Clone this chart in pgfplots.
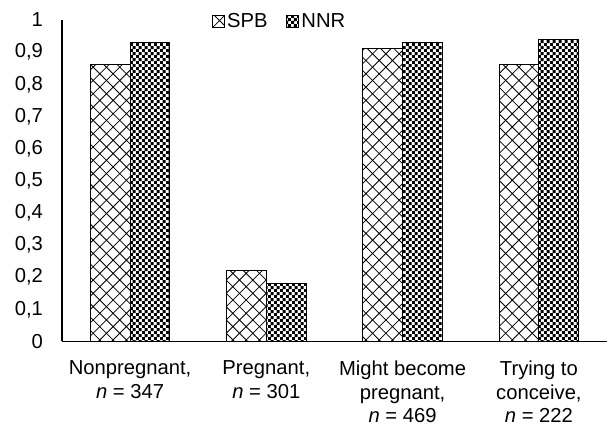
\documentclass[border=0pt]{standalone}
\usepackage{fontspec}
\setmainfont{Liberation Sans}
\usepackage{pgfplots}
\pgfplotsset{compat=1.18}
\usetikzlibrary{patterns}
\pgfdeclarepatternformonly{bigcross}{\pgfqpoint{-1pt}{-1pt}}{\pgfqpoint{10.87pt}{10.87pt}}{\pgfqpoint{9.87pt}{9.87pt}}{%
  \pgfsetlinewidth{0.6pt}%
  \pgfpathmoveto{\pgfqpoint{0pt}{0pt}}\pgfpathlineto{\pgfqpoint{9.92pt}{9.92pt}}%
  \pgfpathmoveto{\pgfqpoint{0pt}{9.87pt}}\pgfpathlineto{\pgfqpoint{9.92pt}{-0.05pt}}%
  \pgfusepath{stroke}}
\pgfdeclarepatternformonly{checks}{\pgfqpoint{0pt}{0pt}}{\pgfqpoint{4.6pt}{4.6pt}}{\pgfqpoint{4.6pt}{4.6pt}}{%
  \pgfpathrectangle{\pgfqpoint{0pt}{0pt}}{\pgfqpoint{2.5pt}{2.5pt}}%
  \pgfpathrectangle{\pgfqpoint{2.3pt}{2.3pt}}{\pgfqpoint{2.5pt}{2.5pt}}%
  \pgfusepath{fill}}
\begin{document}
\fontsize{15}{17.4}\selectfont
\begin{tikzpicture}
\begin{axis}[
  scale only axis,
  width=404.4pt, height=238.5pt,
  ybar=0pt, bar width=29.6pt,
  xmin=-0.5, xmax=3.5,
  ymin=0, ymax=1,
  ytick={0,0.1,...,1},
  xtick=data,
  xticklabels={{Nonpregnant,\\\textit{n} = 347},{Pregnant,\\\textit{n} = 301},{Might become\\pregnant,\\\textit{n} = 469},{Trying to\\conceive,\\\textit{n} = 222}},
  xticklabel style={align=center, inner sep=0pt, font=\fontsize{15}{17.4}\selectfont, yshift=-10pt},
  yticklabel style={font=\fontsize{15}{17.4}\selectfont, inner sep=0pt, xshift=-13.9pt},
  /pgf/number format/assume math mode=true,
  /pgf/number format/use comma,
  axis lines*=left,
  axis line style={line width=1.4pt},
  tick style={draw=none},
  x axis line style={-},
  y axis line style={-},
  legend style={draw=none, fill=none, at={(0.40,0.995)}, anchor=center, legend columns=2, font=\fontsize{15}{17}\selectfont, /tikz/every even column/.append style={column sep=12pt}},
  legend image code/.code={\draw[#1, line width=0.6pt] (0pt,-4.3pt) rectangle (8.6pt,4.3pt);},
  clip=false,
]
\addplot[draw=black, line width=0.75pt, pattern=bigcross] coordinates {(0,0.86) (1,0.22) (2,0.91) (3,0.86)};
\addplot[draw=black, line width=0.75pt, pattern=checks] coordinates {(0,0.93) (1,0.18) (2,0.93) (3,0.94)};
\legend{SPB,NNR}
\end{axis}
\path ([xshift=-45.9pt,yshift=-63pt]current axis.south west) rectangle ++(0.1pt,0.1pt);
\path ([yshift=14.8pt]current axis.north west) rectangle ++(0.1pt,-0.1pt);
\end{tikzpicture}
\end{document}
